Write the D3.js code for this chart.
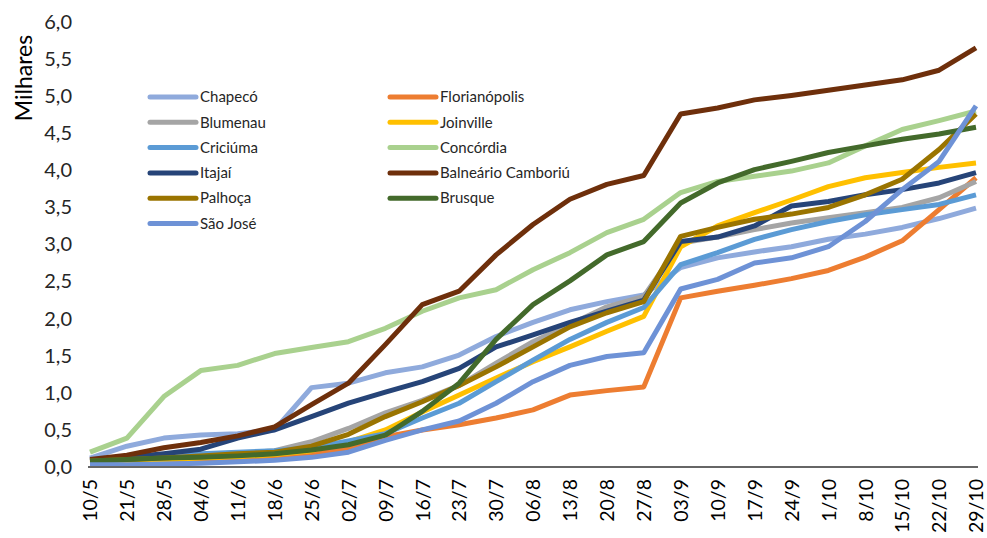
<!DOCTYPE html>
<html>
<head>
<meta charset="utf-8">
<script src="https://cdn.jsdelivr.net/npm/d3@7"></script>
<style>
  html, body { margin: 0; padding: 0; background: #fff; }
  svg { display: block; font-family: Lato, "Open Sans", sans-serif; }
</style>
</head>
<body>
<svg id="chart" width="987" height="538"></svg>
<script>
// Weekly dates (x axis)
const dates = ["10/5","21/5","28/5","04/6","11/6","18/6","25/6","02/7","09/7","16/7","23/7","30/7",
  "06/8","13/8","20/8","27/8","03/9","10/9","17/9","24/9","1/10","8/10","15/10","22/10","29/10"];

// Y axis ticks (thousands)
const yTicks = [0, 0.5, 1, 1.5, 2, 2.5, 3, 3.5, 4, 4.5, 5, 5.5, 6];

// Cases per city, in thousands
const chapeco      = [0.12,0.28,0.39,0.43,0.45,0.50,1.07,1.13,1.27,1.35,1.51,1.76,1.95,2.12,2.23,2.32,2.69,2.82,2.90,2.97,3.07,3.14,3.23,3.35,3.49];
const florianopolis= [0.05,0.06,0.07,0.08,0.10,0.12,0.17,0.26,0.41,0.50,0.57,0.66,0.77,0.97,1.03,1.08,2.28,2.37,2.45,2.54,2.65,2.83,3.05,3.47,3.90];
const blumenau     = [0.08,0.10,0.12,0.15,0.18,0.22,0.34,0.52,0.73,0.90,1.10,1.40,1.69,1.92,2.16,2.30,3.02,3.10,3.20,3.29,3.36,3.43,3.50,3.63,3.85];
const joinville    = [0.06,0.08,0.10,0.12,0.14,0.17,0.22,0.34,0.50,0.74,0.97,1.20,1.42,1.62,1.83,2.03,2.97,3.25,3.43,3.60,3.78,3.90,3.97,4.04,4.10];
const criciuma     = [0.07,0.10,0.14,0.18,0.20,0.22,0.26,0.35,0.45,0.66,0.86,1.15,1.44,1.72,1.95,2.15,2.73,2.89,3.07,3.20,3.31,3.40,3.47,3.54,3.67];
const concordia    = [0.20,0.39,0.95,1.30,1.37,1.53,1.61,1.69,1.87,2.10,2.28,2.39,2.66,2.89,3.16,3.34,3.70,3.85,3.92,3.99,4.10,4.33,4.55,4.67,4.80];
const itajai       = [0.09,0.13,0.18,0.24,0.39,0.50,0.68,0.86,1.01,1.15,1.33,1.62,1.78,1.95,2.10,2.25,3.04,3.10,3.25,3.52,3.58,3.67,3.74,3.83,3.97];
const balneario    = [0.10,0.16,0.26,0.33,0.42,0.54,0.84,1.13,1.65,2.19,2.37,2.86,3.27,3.61,3.81,3.93,4.76,4.84,4.95,5.01,5.08,5.15,5.22,5.35,5.65];
const palhoca      = [0.08,0.10,0.12,0.15,0.18,0.20,0.28,0.44,0.68,0.88,1.10,1.35,1.62,1.89,2.08,2.23,3.11,3.23,3.34,3.41,3.50,3.67,3.88,4.28,4.76];
const brusque      = [0.08,0.10,0.12,0.13,0.15,0.18,0.23,0.30,0.43,0.75,1.13,1.72,2.19,2.51,2.86,3.04,3.56,3.83,4.01,4.12,4.24,4.33,4.42,4.49,4.58];
const saoJose      = [0.03,0.03,0.04,0.05,0.07,0.09,0.13,0.20,0.36,0.50,0.62,0.86,1.15,1.37,1.49,1.54,2.40,2.53,2.75,2.82,2.97,3.31,3.74,4.12,4.87];

const cities  = ["Chapecó","Florianópolis","Blumenau","Joinville","Criciúma","Concórdia",
                 "Itajaí","Balneário Camboriú","Palhoça","Brusque","São José"];
const values  = [chapeco, florianopolis, blumenau, joinville, criciuma, concordia,
                 itajai, balneario, palhoca, brusque, saoJose];
const colors  = ["#8FAADC","#ED7D31","#A5A5A5","#FFC000","#5B9BD5","#A9D18E",
                 "#264478","#6E2F0B","#9A7400","#436A2B","#6E92D6"];

const svg = d3.select("#chart");
const margin = {left: 90, right: 11, top: 22, bottom: 71};
const W = 987, H = 538;

const x = d3.scalePoint().domain(dates).range([margin.left, W - margin.right]);
const y = d3.scaleLinear().domain([0, 6]).range([H - margin.bottom, margin.top]);

const fmt = v => d3.format(".1f")(v).replace(".", ",");

// Y axis: labels only, no line or ticks
const yAxis = svg.append("g")
  .attr("transform", `translate(${margin.left - 18},0)`)
  .call(d3.axisLeft(y).tickValues(yTicks).tickFormat(fmt).tickSize(0).tickPadding(0));
yAxis.select(".domain").remove();
yAxis.selectAll("text")
  .attr("fill", "#262626")
  .style("font-size", "20px")
  .style("font-family", "Lato, sans-serif");

// Axis title
svg.append("text")
  .attr("transform", `translate(32,78) rotate(-90)`)
  .attr("text-anchor", "middle")
  .attr("fill", "#000")
  .style("font-size", "23px")
  .text("Milhares");

// City lines
const line = d3.line().x((d, i) => x(dates[i])).y(d => y(d));
svg.append("g")
  .selectAll("path")
  .data(values)
  .join("path")
  .attr("d", d => line(d))
  .attr("fill", "none")
  .attr("stroke", (d, i) => colors[i])
  .attr("stroke-width", 5)
  .attr("stroke-linejoin", "round")
  .attr("stroke-linecap", "butt");

// X axis
const xAxis = svg.append("g")
  .attr("transform", `translate(0,${y(0)})`)
  .call(d3.axisBottom(x).tickSize(0).tickPadding(0));
xAxis.select(".domain")
  .attr("d", `M${margin.left - 2},0H${W - margin.right + 2}`)
  .attr("stroke", "#666")
  .attr("stroke-width", 2);
xAxis.selectAll("text")
  .attr("transform", "rotate(-90)")
  .attr("text-anchor", "end")
  .attr("x", -12)
  .attr("y", 0)
  .attr("dy", "0.35em")
  .attr("fill", "#000")
  .style("font-size", "19.5px")
  .style("font-family", "Lato, sans-serif");

// Legend: two columns, filled row by row
const legend = svg.append("g");
const legendItems = legend.selectAll("g")
  .data(cities)
  .join("g")
  .attr("transform", (d, i) => {
    const col = i % 2, row = Math.floor(i / 2);
    return `translate(${col === 0 ? 150 : 390},${97 + row * 25.3})`;
  });
legendItems.append("line")
  .attr("x1", 0).attr("x2", 46)
  .attr("stroke", (d, i) => colors[i])
  .attr("stroke-width", 5)
  .attr("stroke-linecap", "round");
legendItems.append("text")
  .attr("x", 50)
  .attr("dy", "0.35em")
  .attr("fill", "#262626")
  .style("font-size", "15px")
  .text(d => d);
</script>
</body>
</html>
